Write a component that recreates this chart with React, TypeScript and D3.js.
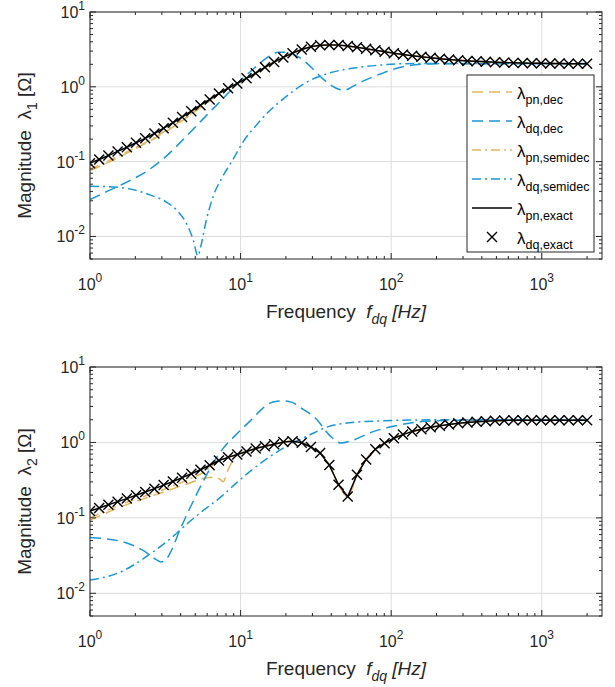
import React from "react";
import * as d3 from "d3";

// frequency grid of the exact solution (55 log spaced points, 1 .. 2000 Hz)
const freqExact = [1, 1.151, 1.325, 1.525, 1.756, 2.021, 2.327, 2.679, 3.083, 3.55, 4.087, 4.705, 5.416, 6.235, 7.177, 8.26, 9.508, 10.95, 12.6, 14.5, 16.7, 19.22, 22.13, 25.47, 29.32, 33.75, 38.85, 44.72, 51.46, 59.26, 68.22, 78.52, 90.42, 104.1, 119.8, 137.9, 158.8, 182.8, 210.3, 242.2, 278.7, 320.9, 369.4, 425.2, 489.4, 563.5, 648.6, 746.6, 859.4, 989.5, 1139, 1311, 1510, 1738, 2000];

// ---- lambda_1 ----
const lam1Exact = [0.0955, 0.107, 0.121, 0.137, 0.156, 0.179, 0.205, 0.238, 0.28, 0.331, 0.394, 0.472, 0.568, 0.679, 0.817, 0.957, 1.11, 1.3, 1.52, 1.82, 2.14, 2.47, 2.82, 3.16, 3.43, 3.59, 3.63, 3.61, 3.51, 3.37, 3.22, 3.08, 2.95, 2.82, 2.71, 2.61, 2.52, 2.44, 2.37, 2.31, 2.26, 2.22, 2.19, 2.16, 2.13, 2.11, 2.09, 2.08, 2.07, 2.06, 2.05, 2.05, 2.04, 2.04, 2.04];
// low-frequency part of the pn curves, on freqExact; above that they follow the exact one
const lam1PnDecLow = [0.076, 0.086, 0.098, 0.112, 0.13, 0.151, 0.174, 0.204, 0.242, 0.29, 0.35, 0.43, 0.53, 0.65, 0.8];
const lam1PnSemiLow = [0.08, 0.09, 0.103, 0.117, 0.135, 0.156, 0.18, 0.21, 0.25, 0.3, 0.36, 0.44, 0.54, 0.66, 0.81];
const lam1DqDecF = [1, 1.33, 1.78, 2.37, 3.16, 4.22, 5.62, 7.5, 10, 11.55, 13.34, 15.4, 17.8, 20.5, 23.7, 27.4, 31.6, 36.5, 42.2, 48.7, 56.2, 65, 75, 86.6, 100, 133, 178, 316, 2000];
const lam1DqDecV = [0.031, 0.041, 0.054, 0.074, 0.115, 0.204, 0.37, 0.67, 1.22, 1.58, 2.04, 2.55, 2.9, 2.9, 2.57, 2.09, 1.58, 1.2, 0.98, 0.9, 1.02, 1.19, 1.35, 1.51, 1.68, 1.93, 2.02, 2.04, 2.04];
const lam1DqSemiF = [1, 1.6, 2.5, 3.2, 3.8, 4.4, 4.85, 5.2, 5.45, 5.9, 6.6, 7.6, 8.9, 10.5, 12.6, 15.1, 18.2, 21.9, 26.3, 31.6, 39.8, 50, 63, 89, 126, 251, 2000];
const lam1DqSemiV = [0.047, 0.045, 0.036, 0.029, 0.022, 0.0145, 0.009, 0.0055, 0.0075, 0.016, 0.035, 0.063, 0.107, 0.19, 0.3, 0.45, 0.63, 0.85, 1.1, 1.32, 1.55, 1.72, 1.84, 1.97, 2.04, 2.05, 2.05];

// ---- lambda_2 ----
const lam2Exact = [0.123, 0.135, 0.149, 0.164, 0.18, 0.199, 0.22, 0.244, 0.272, 0.304, 0.341, 0.384, 0.435, 0.499, 0.575, 0.634, 0.692, 0.759, 0.832, 0.891, 0.944, 1.01, 1.035, 0.989, 0.871, 0.724, 0.501, 0.275, 0.192, 0.372, 0.596, 0.813, 0.977, 1.135, 1.27, 1.4, 1.5, 1.585, 1.66, 1.73, 1.79, 1.84, 1.88, 1.91, 1.94, 1.96, 1.97, 1.97, 1.97, 1.97, 1.97, 1.97, 1.97, 1.97, 1.97];
const lam2PnDecLowF = [1, 1.6, 2.68, 4.46, 5.75, 6.6, 7.3, 7.65, 8.2, 8.9];
const lam2PnDecLowV = [0.093, 0.14, 0.2, 0.284, 0.335, 0.345, 0.325, 0.3, 0.42, 0.58];
const lam2PnSemiLowF = [1, 1.6, 2.68, 4.46, 5.75, 6.2];
const lam2PnSemiLowV = [0.1, 0.15, 0.215, 0.32, 0.41, 0.46];
const lam2DqDecF = [1, 1.66, 2.25, 2.75, 2.95, 3.2, 3.4, 3.94, 4.57, 5.62, 7.24, 10, 11.5, 13.4, 15.5, 17.5, 19.5, 22, 24.5, 31.6, 38.9, 46.5, 55, 75, 112, 153, 220, 400, 2000];
const lam2DqDecV = [0.055, 0.048, 0.037, 0.028, 0.026, 0.028, 0.034, 0.068, 0.13, 0.3, 0.72, 1.45, 1.9, 2.6, 3.3, 3.52, 3.55, 3.4, 2.96, 2.08, 1.25, 0.98, 1.06, 1.38, 1.69, 1.88, 1.95, 1.98, 1.98];
const lam2DqSemiF = [1, 1.58, 2.5, 3.75, 4.46, 5.35, 7.64, 9.55, 11.5, 15.5, 20.4, 28.6, 36.9, 52.5, 87, 132, 300, 2000];
const lam2DqSemiV = [0.015, 0.019, 0.033, 0.062, 0.085, 0.115, 0.2, 0.3, 0.41, 0.64, 0.9, 1.25, 1.58, 1.82, 1.93, 1.98, 2.0, 2.0];

const legendNames = ["pn,dec", "dq,dec", "pn,semidec", "dq,semidec", "pn,exact", "dq,exact"];

const gold = "#E3B55A";
const blue = "#1A97D5";
const axisColor = "#262626";
const dashDec = "11,6";
const dashSemi = "9,4,2,4";
const font = "'Liberation Sans', Arial, Helvetica, sans-serif";

type Series = {
  f: number[];
  v: number[];
  color: string;
  dash?: string;
  marker?: boolean;
  linear?: boolean;
};

const styleOf = (i: number) =>
  [
    { color: gold, dash: dashDec },
    { color: blue, dash: dashDec },
    { color: gold, dash: dashSemi },
    { color: blue, dash: dashSemi },
    { color: "#000", dash: undefined },
    { color: "#000", dash: undefined },
  ][i];

function buildSeries(
  pnDec: [number[], number[]],
  dqDec: [number[], number[]],
  pnSemi: [number[], number[]],
  dqSemi: [number[], number[]],
  exact: number[]
): Series[] {
  const list: [number[], number[]][] = [pnDec, dqDec, pnSemi, dqSemi, [freqExact, exact], [freqExact, exact]];
  return list.map(([f, v], i) => ({
    f,
    v,
    color: styleOf(i).color,
    dash: styleOf(i).dash,
    marker: i === 5,
    linear: i >= 4,
  }));
}

const topSeries = buildSeries(
  [freqExact, [...lam1PnDecLow, ...lam1Exact.slice(lam1PnDecLow.length)]],
  [lam1DqDecF, lam1DqDecV],
  [freqExact, [...lam1PnSemiLow, ...lam1Exact.slice(lam1PnSemiLow.length)]],
  [lam1DqSemiF, lam1DqSemiV],
  lam1Exact
);

const botSeries = buildSeries(
  [[...lam2PnDecLowF, ...freqExact.slice(16)], [...lam2PnDecLowV, ...lam2Exact.slice(16)]],
  [lam2DqDecF, lam2DqDecV],
  [[...lam2PnSemiLowF, ...freqExact.slice(14)], [...lam2PnSemiLowV, ...lam2Exact.slice(14)]],
  [lam2DqSemiF, lam2DqSemiV],
  lam2Exact
);

const xLeft = 90;
const xRight = 602;

function Cross({ cx, cy, s = 5 }: { cx: number; cy: number; s?: number }) {
  return (
    <path
      d={`M${cx - s},${cy - s}L${cx + s},${cy + s}M${cx - s},${cy + s}L${cx + s},${cy - s}`}
      stroke="#000"
      strokeWidth={1.4}
      fill="none"
    />
  );
}

function Panel({ id, y0, y1, series, sub, legend }: { id: string; y0: number; y1: number; series: Series[]; sub: string; legend?: boolean }) {
  const x = d3.scaleLog().domain([1, 2512]).range([xLeft, xRight]);
  const y = d3.scaleLog().domain([0.005, 10]).range([y1, y0]);
  const xt = x.ticks();
  const yt = y.ticks();
  const isMajor = (t: number) => Math.abs(Math.log10(t) - Math.round(Math.log10(t))) < 1e-6;

  const mk = (linear: boolean) =>
    d3
      .line<[number, number]>()
      .x((d) => x(d[0]))
      .y((d) => y(d[1]))
      .curve(linear ? d3.curveLinear : d3.curveMonotoneX);

  const legX = 467;
  const legY = 75;
  const rowH = 29;

  return (
    <g>
      <defs>
        <clipPath id={id}>
          <rect x={xLeft} y={y0} width={xRight - xLeft} height={y1 - y0} />
        </clipPath>
      </defs>
      <rect x={xLeft} y={y0} width={xRight - xLeft} height={y1 - y0} fill="#fff" />
      {/* grid at decades */}
      {xt.filter(isMajor).map((t) => (
        <line key={"gx" + t} x1={x(t)} x2={x(t)} y1={y0} y2={y1} stroke="#dcdcdc" strokeWidth={1} />
      ))}
      {yt.filter(isMajor).map((t) => (
        <line key={"gy" + t} x1={xLeft} x2={xRight} y1={y(t)} y2={y(t)} stroke="#dcdcdc" strokeWidth={1} />
      ))}

      <g clipPath={`url(#${id})`}>
        {series.map((s, i) => {
          const pts = s.f.map((f, j) => [f, s.v[j]] as [number, number]);
          if (s.marker) {
            return (
              <g key={i}>
                {pts.map((p, j) => (
                  <Cross key={j} cx={x(p[0])} cy={y(p[1])} />
                ))}
              </g>
            );
          }
          return (
            <path
              key={i}
              d={mk(!!s.linear)(pts) || ""}
              fill="none"
              stroke={s.color}
              strokeWidth={1.5}
              strokeDasharray={s.dash}
            />
          );
        })}
      </g>

      {/* axes box and ticks */}
      <rect x={xLeft} y={y0} width={xRight - xLeft} height={y1 - y0} fill="none" stroke={axisColor} strokeWidth={1} />
      {xt.map((t) => {
        const L = isMajor(t) ? 6 : 3;
        return (
          <g key={"tx" + t}>
            <line x1={x(t)} x2={x(t)} y1={y1} y2={y1 - L} stroke={axisColor} />
            <line x1={x(t)} x2={x(t)} y1={y0} y2={y0 + L} stroke={axisColor} />
          </g>
        );
      })}
      {yt.map((t) => {
        const L = isMajor(t) ? 6 : 3;
        return (
          <g key={"ty" + t}>
            <line x1={xLeft} x2={xLeft + L} y1={y(t)} y2={y(t)} stroke={axisColor} />
            <line x1={xRight} x2={xRight - L} y1={y(t)} y2={y(t)} stroke={axisColor} />
          </g>
        );
      })}
      {xt.filter(isMajor).map((t) => (
        <text key={"lx" + t} x={x(t)} y={y1 + 31} textAnchor="middle" fontSize={16} fill={axisColor}>
          10<tspan dy={-8} fontSize={12}>{Math.round(Math.log10(t))}</tspan>
        </text>
      ))}
      {yt.filter(isMajor).map((t) => (
        <text key={"ly" + t} x={85} y={y(t) + 6} textAnchor="end" fontSize={16} fill={axisColor}>
          10<tspan dy={-8} fontSize={12}>{Math.round(Math.log10(t))}</tspan>
        </text>
      ))}

      {/* axis titles */}
      <text x={(xLeft + xRight) / 2} y={y1 + 59} textAnchor="middle" fontSize={19} fill={axisColor}>
        {"Frequency\u00a0\u00a0"}
        <tspan fontStyle="italic">f</tspan>
        <tspan fontStyle="italic" fontSize={14} dy={6}>dq</tspan>
        <tspan fontStyle="italic" dy={-6}>{"\u00a0[Hz]"}</tspan>
      </text>
      <text transform={`translate(31,${(y0 + y1) / 2 + 10}) rotate(-90)`} textAnchor="middle" fontSize={19} fill={axisColor}>
        {"Magnitude\u00a0\u00a0λ"}
        <tspan fontSize={14} dy={6}>{sub}</tspan>
        <tspan dy={-6}>{"\u00a0[Ω]"}</tspan>
      </text>

      {legend && (
        <g>
          <rect x={legX} y={legY} width={127} height={177} fill="#fff" stroke={axisColor} strokeWidth={1} />
          {legendNames.map((name, i) => {
            const ry = legY + 17 + i * rowH;
            const st = styleOf(i);
            return (
              <g key={name}>
                {i < 5 ? (
                  <line x1={legX + 5} x2={legX + 45} y1={ry} y2={ry} stroke={st.color} strokeWidth={1.5} strokeDasharray={st.dash} />
                ) : (
                  <Cross cx={legX + 25} cy={ry} />
                )}
                <text x={legX + 50} y={ry + 7} fontSize={17} fill="#000">
                  λ<tspan fontSize={12.5} dy={5}>{name}</tspan>
                </text>
              </g>
            );
          })}
        </g>
      )}
    </g>
  );
}

export default function App() {
  return (
    <svg
      width={615}
      height={687}
      style={{ position: "absolute", left: 0, top: 0, background: "#fff" }}
      fontFamily={font}
    >
      <rect width={615} height={687} fill="#fff" />
      <Panel id="clipTop" y0={12} y1={259} series={topSeries} sub="1" legend />
      <Panel id="clipBot" y0={367} y1={616} series={botSeries} sub="2" />
    </svg>
  );
}
